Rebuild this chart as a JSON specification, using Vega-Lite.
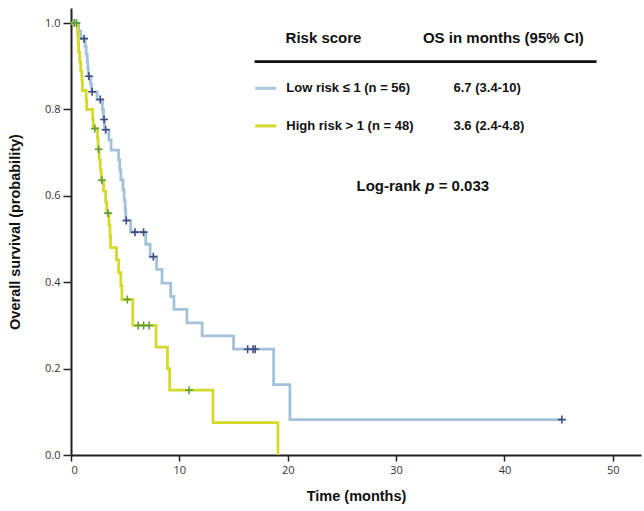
{
  "$schema": "https://vega.github.io/schema/vega-lite/v6.json",
  "width": 570,
  "height": 447,
  "autosize": {"type": "none"},
  "padding": {"left": 71, "top": 8, "right": 3, "bottom": 56},
  "background": "white",
  "config": {
    "view": {"stroke": null},
    "axis": {"grid": false, "domainColor": "#222", "domainWidth": 2, "tickColor": "#222", "tickWidth": 1.5,
      "labelFont": "Open Sans", "labelFontSize": 11, "labelColor": "#333",
      "titleFont": "Liberation Sans", "titleFontSize": 14.5, "titleFontWeight": "bold", "titleColor": "#111"}
  },
  "datasets": {
    "km": [
      {"group": "Low", "t": 0, "s": 1.0},
      {"group": "Low", "t": 0.7, "s": 0.982},
      {"group": "Low", "t": 0.9, "s": 0.964},
      {"group": "Low", "t": 1.3, "s": 0.946},
      {"group": "Low", "t": 1.4, "s": 0.928},
      {"group": "Low", "t": 1.5, "s": 0.911},
      {"group": "Low", "t": 1.55, "s": 0.895},
      {"group": "Low", "t": 1.6, "s": 0.877},
      {"group": "Low", "t": 1.8, "s": 0.859},
      {"group": "Low", "t": 1.9, "s": 0.841},
      {"group": "Low", "t": 2.4, "s": 0.823},
      {"group": "Low", "t": 2.9, "s": 0.8},
      {"group": "Low", "t": 3.0, "s": 0.777},
      {"group": "Low", "t": 3.1, "s": 0.753},
      {"group": "Low", "t": 3.5, "s": 0.729},
      {"group": "Low", "t": 3.7, "s": 0.706},
      {"group": "Low", "t": 4.4, "s": 0.683},
      {"group": "Low", "t": 4.5, "s": 0.66},
      {"group": "Low", "t": 4.6, "s": 0.637},
      {"group": "Low", "t": 4.8, "s": 0.614},
      {"group": "Low", "t": 4.9, "s": 0.59},
      {"group": "Low", "t": 5.0, "s": 0.567},
      {"group": "Low", "t": 5.05, "s": 0.543},
      {"group": "Low", "t": 5.5, "s": 0.516},
      {"group": "Low", "t": 6.9, "s": 0.488},
      {"group": "Low", "t": 7.3, "s": 0.459},
      {"group": "Low", "t": 7.9, "s": 0.43},
      {"group": "Low", "t": 8.4, "s": 0.398},
      {"group": "Low", "t": 9.2, "s": 0.367},
      {"group": "Low", "t": 9.5, "s": 0.337},
      {"group": "Low", "t": 10.7, "s": 0.306},
      {"group": "Low", "t": 12.1, "s": 0.276},
      {"group": "Low", "t": 15.0, "s": 0.245},
      {"group": "Low", "t": 18.7, "s": 0.163},
      {"group": "Low", "t": 20.2, "s": 0.082},
      {"group": "Low", "t": 45.3, "s": 0.082},
      {"group": "High", "t": 0, "s": 1.0},
      {"group": "High", "t": 0.6, "s": 0.978},
      {"group": "High", "t": 0.65, "s": 0.956},
      {"group": "High", "t": 0.7, "s": 0.933},
      {"group": "High", "t": 0.8, "s": 0.911},
      {"group": "High", "t": 0.9, "s": 0.889},
      {"group": "High", "t": 1.0, "s": 0.867},
      {"group": "High", "t": 1.05, "s": 0.844},
      {"group": "High", "t": 1.4, "s": 0.822},
      {"group": "High", "t": 1.45, "s": 0.8},
      {"group": "High", "t": 2.0, "s": 0.778},
      {"group": "High", "t": 2.05, "s": 0.756},
      {"group": "High", "t": 2.45, "s": 0.732},
      {"group": "High", "t": 2.5, "s": 0.708},
      {"group": "High", "t": 2.6, "s": 0.684},
      {"group": "High", "t": 2.7, "s": 0.66},
      {"group": "High", "t": 2.8, "s": 0.636},
      {"group": "High", "t": 3.0, "s": 0.611},
      {"group": "High", "t": 3.2, "s": 0.585},
      {"group": "High", "t": 3.3, "s": 0.56},
      {"group": "High", "t": 3.5, "s": 0.533},
      {"group": "High", "t": 3.6, "s": 0.507},
      {"group": "High", "t": 3.65, "s": 0.48},
      {"group": "High", "t": 4.2, "s": 0.452},
      {"group": "High", "t": 4.4, "s": 0.422},
      {"group": "High", "t": 4.6, "s": 0.392},
      {"group": "High", "t": 4.7, "s": 0.36},
      {"group": "High", "t": 5.7, "s": 0.3},
      {"group": "High", "t": 7.85, "s": 0.25},
      {"group": "High", "t": 8.9, "s": 0.2},
      {"group": "High", "t": 9.1, "s": 0.15},
      {"group": "High", "t": 13.1, "s": 0.075},
      {"group": "High", "t": 19.1, "s": 0.0}
    ],
    "cens": [
      {"group": "Low", "t": 1.2, "s": 0.964},
      {"group": "Low", "t": 1.65, "s": 0.877},
      {"group": "Low", "t": 1.95, "s": 0.841},
      {"group": "Low", "t": 2.7, "s": 0.823},
      {"group": "Low", "t": 3.05, "s": 0.777},
      {"group": "Low", "t": 3.2, "s": 0.753},
      {"group": "Low", "t": 5.1, "s": 0.543},
      {"group": "Low", "t": 5.9, "s": 0.516},
      {"group": "Low", "t": 6.7, "s": 0.516},
      {"group": "Low", "t": 7.6, "s": 0.459},
      {"group": "Low", "t": 16.3, "s": 0.245},
      {"group": "Low", "t": 16.8, "s": 0.245},
      {"group": "Low", "t": 17.0, "s": 0.245},
      {"group": "Low", "t": 45.3, "s": 0.082},
      {"group": "High", "t": 0.3, "s": 1.0},
      {"group": "High", "t": 0.5, "s": 1.0},
      {"group": "High", "t": 2.2, "s": 0.756},
      {"group": "High", "t": 2.55, "s": 0.708},
      {"group": "High", "t": 2.85, "s": 0.636},
      {"group": "High", "t": 3.43, "s": 0.56},
      {"group": "High", "t": 5.2, "s": 0.36},
      {"group": "High", "t": 6.2, "s": 0.3},
      {"group": "High", "t": 6.7, "s": 0.3},
      {"group": "High", "t": 7.2, "s": 0.3},
      {"group": "High", "t": 10.9, "s": 0.15}
    ]
  },
  "layer": [
    {
      "data": {"name": "km"},
      "mark": {"type": "line", "interpolate": "step-after", "strokeWidth": 2.8},
      "encoding": {
        "x": {"field": "t", "type": "quantitative", "scale": {"domain": [0, 52.6], "nice": false, "zero": true},
          "axis": {"values": [0, 10, 20, 30, 40, 50], "title": "Time (months)", "tickSize": 6, "labelPadding": 3, "titlePadding": 14}},
        "y": {"field": "s", "type": "quantitative", "scale": {"domain": [0, 1.035], "nice": false},
          "axis": {"values": [0, 0.2, 0.4, 0.6, 0.8, 1.0], "format": ".1f", "title": "Overall survival (probability)", "tickSize": 8, "labelPadding": 3, "titlePadding": 22}},
        "color": {"field": "group", "type": "nominal", "scale": {"domain": ["Low", "High"], "range": ["#a2c2da", "#d3da2c"]}, "legend": null},
        "order": {"field": "t", "type": "quantitative"}
      }
    },
    {
      "data": {"name": "cens"},
      "mark": {"type": "point", "shape": "M-1,0L1,0M0,-1L0,1", "size": 64, "strokeWidth": 1.6, "filled": false, "opacity": 1},
      "encoding": {
        "x": {"field": "t", "type": "quantitative"},
        "y": {"field": "s", "type": "quantitative"},
        "stroke": {"field": "group", "type": "nominal", "scale": {"domain": ["Low", "High"], "range": ["#3f4d7f", "#5e9e3e"]}, "legend": null}
      }
    },
    {
      "data": {"values": [{}]},
      "mark": {"type": "text", "font": "Liberation Sans", "fontSize": 15, "fontWeight": "bold", "align": "center", "baseline": "middle", "color": "#111", "text": "Risk score"},
      "encoding": {"x": {"datum": 23.3}, "y": {"datum": 0.965}}
    },
    {
      "data": {"values": [{}]},
      "mark": {"type": "text", "font": "Liberation Sans", "fontSize": 15, "fontWeight": "bold", "align": "center", "baseline": "middle", "color": "#111", "text": "OS in months (95% CI)"},
      "encoding": {"x": {"datum": 39.9}, "y": {"datum": 0.965}}
    },
    {
      "data": {"values": [{}]},
      "mark": {"type": "rule", "strokeWidth": 2.7, "color": "#111"},
      "encoding": {"x": {"datum": 16.94}, "x2": {"datum": 48.5}, "y": {"datum": 0.911}}
    },
    {
      "data": {"values": [{}]},
      "mark": {"type": "rule", "strokeWidth": 3, "color": "#a8cbe0"},
      "encoding": {"x": {"datum": 17.0}, "x2": {"datum": 18.95}, "y": {"datum": 0.849}}
    },
    {
      "data": {"values": [{}]},
      "mark": {"type": "rule", "strokeWidth": 3, "color": "#d3da2c"},
      "encoding": {"x": {"datum": 17.0}, "x2": {"datum": 18.95}, "y": {"datum": 0.762}}
    },
    {
      "data": {"values": [{}]},
      "mark": {"type": "text", "font": "Liberation Sans", "fontSize": 13, "fontWeight": "bold", "align": "left", "baseline": "middle", "color": "#111", "text": "Low risk ≤ 1 (n = 56)"},
      "encoding": {"x": {"datum": 19.87}, "y": {"datum": 0.849}}
    },
    {
      "data": {"values": [{}]},
      "mark": {"type": "text", "font": "Liberation Sans", "fontSize": 13, "fontWeight": "bold", "align": "left", "baseline": "middle", "color": "#111", "text": "6.7 (3.4-10)"},
      "encoding": {"x": {"datum": 35.3}, "y": {"datum": 0.849}}
    },
    {
      "data": {"values": [{}]},
      "mark": {"type": "text", "font": "Liberation Sans", "fontSize": 13, "fontWeight": "bold", "align": "left", "baseline": "middle", "color": "#111", "text": "High risk > 1 (n = 48)"},
      "encoding": {"x": {"datum": 19.87}, "y": {"datum": 0.762}}
    },
    {
      "data": {"values": [{}]},
      "mark": {"type": "text", "font": "Liberation Sans", "fontSize": 13, "fontWeight": "bold", "align": "left", "baseline": "middle", "color": "#111", "text": "3.6 (2.4-4.8)"},
      "encoding": {"x": {"datum": 35.3}, "y": {"datum": 0.762}}
    },
    {
      "data": {"values": [{}]},
      "mark": {"type": "text", "font": "Liberation Sans", "fontSize": 15, "fontWeight": "bold", "align": "right", "baseline": "middle", "color": "#111", "text": "Log-rank"},
      "encoding": {"x": {"datum": 32.27}, "y": {"datum": 0.623}}
    },
    {
      "data": {"values": [{}]},
      "mark": {"type": "text", "font": "Liberation Sans", "fontSize": 15, "fontWeight": "bold", "fontStyle": "italic", "align": "left", "baseline": "middle", "color": "#111", "text": "p"},
      "encoding": {"x": {"datum": 32.69}, "y": {"datum": 0.623}}
    },
    {
      "data": {"values": [{}]},
      "mark": {"type": "text", "font": "Liberation Sans", "fontSize": 15, "fontWeight": "bold", "align": "left", "baseline": "middle", "color": "#111", "text": "= 0.033"},
      "encoding": {"x": {"datum": 33.93}, "y": {"datum": 0.623}}
    }
  ]
}
